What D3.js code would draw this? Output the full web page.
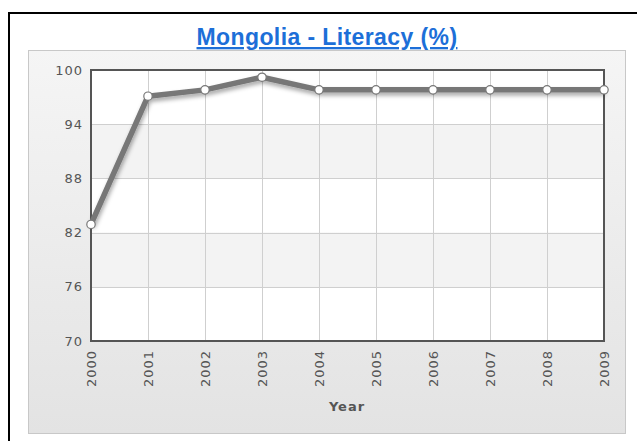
<!DOCTYPE html>
<html>
<head>
<meta charset="utf-8">
<script src="https://cdn.jsdelivr.net/npm/d3@7"></script>
<style>
  body { margin: 0; background: #fff; }
  svg { display: block; }
</style>
</head>
<body>
<div id="chart"></div>
<script>
const years = [2000, 2001, 2002, 2003, 2004, 2005, 2006, 2007, 2008, 2009];
const literacy = [82.9, 97.1, 97.8, 99.2, 97.8, 97.8, 97.8, 97.8, 97.8, 97.8];
const yTicks = [70, 76, 82, 88, 94, 100];

const W = 637, H = 441;
const plot = { left: 91, top: 70, right: 604, bottom: 341 };

const svg = d3.select("#chart").append("svg")
    .attr("width", W)
    .attr("height", H)
    .attr("font-family", "DejaVu Sans, Verdana, sans-serif");

const defs = svg.append("defs");
const grad = defs.append("linearGradient")
    .attr("id", "panelGrad")
    .attr("x1", 0).attr("y1", 0).attr("x2", 0).attr("y2", 1);
grad.append("stop").attr("offset", "0%").attr("stop-color", "#f5f5f5");
grad.append("stop").attr("offset", "100%").attr("stop-color", "#e3e3e3");

const shadow = defs.append("filter").attr("id", "shadow")
    .attr("x", "-10%").attr("y", "-10%").attr("width", "120%").attr("height", "130%");
shadow.append("feDropShadow")
    .attr("dx", 1).attr("dy", 3).attr("stdDeviation", 2)
    .attr("flood-color", "#000").attr("flood-opacity", 0.35);

// outer frame
svg.append("rect")
    .attr("x", 9).attr("y", 13)
    .attr("width", 700).attr("height", 500)
    .attr("fill", "#fff")
    .attr("stroke", "#000").attr("stroke-width", 2);

// title
svg.append("text")
    .attr("x", 327).attr("y", 45)
    .attr("text-anchor", "middle")
    .attr("font-family", "Liberation Sans, Arial, sans-serif")
    .attr("font-weight", "bold")
    .attr("font-size", 23)
    .attr("letter-spacing", 0.4)
    .attr("fill", "#1d6fd8")
    .attr("text-decoration", "underline")
    .text("Mongolia - Literacy (%)");

// panel
svg.append("rect")
    .attr("x", 28.5).attr("y", 50.5)
    .attr("width", 597).attr("height", 383)
    .attr("fill", "url(#panelGrad)")
    .attr("stroke", "#c8c8c8");

const x = d3.scalePoint()
    .domain(years)
    .range([plot.left, plot.right]);

const y = d3.scaleLinear()
    .domain([70, 100])
    .range([plot.bottom, plot.top]);

// bands
svg.append("g").selectAll("rect")
    .data(yTicks.slice(0, -1))
    .join("rect")
    .attr("x", plot.left)
    .attr("y", d => y(d + 6))
    .attr("width", plot.right - plot.left)
    .attr("height", d => y(d) - y(d + 6))
    .attr("fill", (d, i) => i % 2 ? "#f3f3f3" : "#fff");

// grid
svg.append("g").selectAll("line")
    .data(yTicks)
    .join("line")
    .attr("x1", plot.left).attr("x2", plot.right)
    .attr("y1", d => Math.round(y(d)) + 0.5)
    .attr("y2", d => Math.round(y(d)) + 0.5)
    .attr("stroke", "#cfcfcf");

svg.append("g").selectAll("line")
    .data(years)
    .join("line")
    .attr("y1", plot.top).attr("y2", plot.bottom)
    .attr("x1", d => Math.round(x(d)) + 0.5)
    .attr("x2", d => Math.round(x(d)) + 0.5)
    .attr("stroke", "#cfcfcf");

// border
svg.append("rect")
    .attr("x", plot.left).attr("y", plot.top)
    .attr("width", plot.right - plot.left)
    .attr("height", plot.bottom - plot.top)
    .attr("fill", "none")
    .attr("stroke", "#555").attr("stroke-width", 2);

// y axis
const yAxis = svg.append("g")
    .attr("transform", `translate(${plot.left - 8},0)`)
    .call(d3.axisLeft(y).tickValues(yTicks).tickSize(0).tickPadding(0));
yAxis.select(".domain").remove();
yAxis.selectAll("text")
    .attr("font-family", "DejaVu Sans, Verdana, sans-serif")
    .attr("font-size", 13)
    .attr("letter-spacing", 1)
    .attr("fill", "#555");

// x axis
const xAxis = svg.append("g")
    .attr("transform", `translate(0,${plot.bottom + 9})`)
    .call(d3.axisBottom(x).tickSize(0).tickPadding(0));
xAxis.select(".domain").remove();
xAxis.selectAll("text")
    .attr("font-family", "DejaVu Sans, Verdana, sans-serif")
    .attr("font-size", 13)
    .attr("letter-spacing", 1)
    .attr("fill", "#555")
    .attr("transform", "rotate(-90)")
    .attr("text-anchor", "end")
    .attr("x", 0)
    .attr("y", 0)
    .attr("dy", "0.35em");

svg.append("text")
    .attr("x", 347).attr("y", 411)
    .attr("text-anchor", "middle")
    .attr("font-weight", "bold")
    .attr("font-size", 13)
    .attr("letter-spacing", 1)
    .attr("fill", "#555")
    .text("Year");

// line
const line = d3.line()
    .x((d, i) => x(years[i]))
    .y(d => y(d));

svg.append("path")
    .datum(literacy)
    .attr("d", line)
    .attr("fill", "none")
    .attr("stroke", "#777")
    .attr("stroke-width", 5.5)
    .attr("stroke-linejoin", "round")
    .attr("filter", "url(#shadow)");

svg.append("g").selectAll("circle")
    .data(literacy)
    .join("circle")
    .attr("cx", (d, i) => x(years[i]))
    .attr("cy", d => y(d))
    .attr("r", 4.2)
    .attr("fill", "#fff")
    .attr("stroke", "#777")
    .attr("stroke-width", 1.2);
</script>
</body>
</html>
